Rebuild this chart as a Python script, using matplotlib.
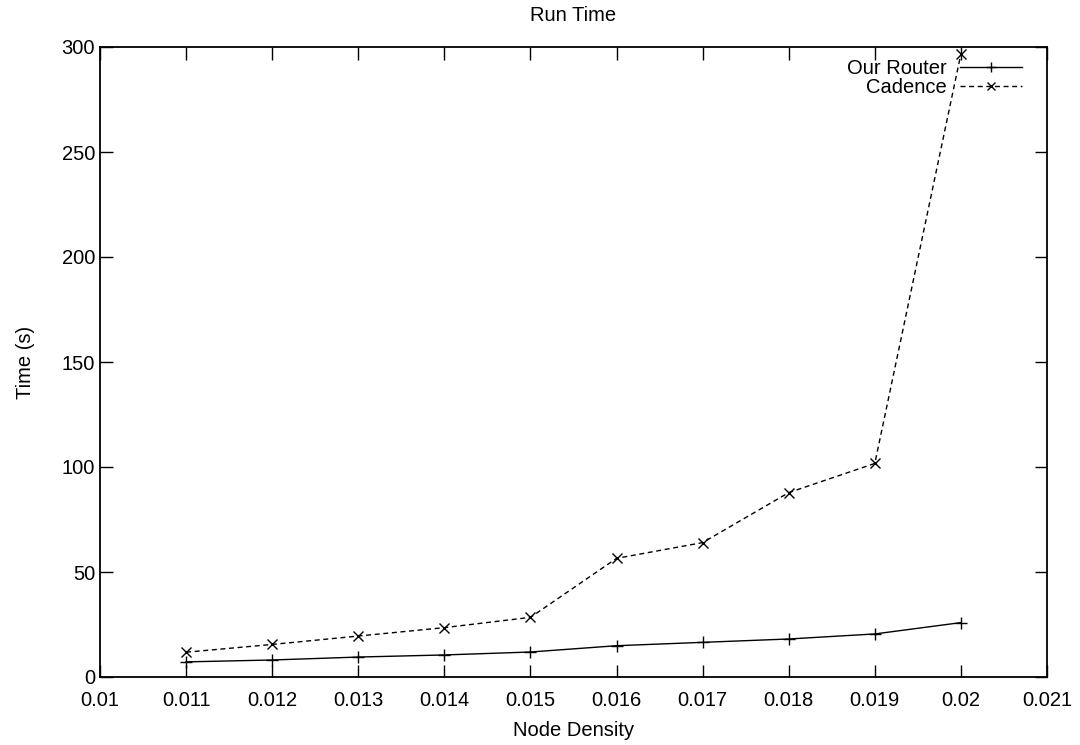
import matplotlib
matplotlib.use("Agg")
import matplotlib.pyplot as plt

density = [0.011, 0.012, 0.013, 0.014, 0.015, 0.016, 0.017, 0.018, 0.019, 0.020]
our_router = [7.2, 8.1, 9.5, 10.5, 11.9, 14.9, 16.5, 18.1, 20.5, 25.9]
cadence = [11.8, 15.5, 19.5, 23.5, 28.4, 56.5, 64.0, 87.8, 101.7, 296.7]

xticks = [0.01, 0.011, 0.012, 0.013, 0.014, 0.015, 0.016, 0.017, 0.018, 0.019, 0.02, 0.021]
xtick_labels = ["0.01", "0.011", "0.012", "0.013", "0.014", "0.015", "0.016", "0.017", "0.018", "0.019", "0.02", "0.021"]
yticks = [0, 50, 100, 150, 200, 250, 300]

plt.rcParams['font.family'] = ['Liberation Sans', 'DejaVu Sans']
fs = 14.5

fig = plt.figure(figsize=(10.8, 7.45), dpi=100)
ax = fig.add_axes([100/1080, 1-677/745, 947/1080, 630/745])

ax.plot(density, our_router, color='black', lw=1.0, ls='-', marker='+', ms=9, mew=1.0, label='Our Router')
ax.plot(density, cadence, color='black', lw=1.0, ls=(0, (3.6, 2.6)), marker='x', ms=7.5, mew=1.0, label='Cadence')

ax.set_xlim(0.01, 0.021)
ax.set_ylim(0, 300)
ax.set_xticks(xticks)
ax.set_xticklabels(xtick_labels)
ax.set_yticks(yticks)
ax.tick_params(direction='in', length=9, width=1, top=True, right=True, labelsize=fs)
ax.tick_params(axis='x', pad=10)
ax.tick_params(axis='y', pad=3.6)
for s in ax.spines.values():
    s.set_linewidth(1.3)

ax.set_xlabel('Node Density', fontsize=fs, labelpad=8)
ax.set_ylabel('Time (s)', fontsize=fs, labelpad=19)
ax.set_title('Run Time', fontsize=fs, pad=19)

leg = ax.legend(loc='upper right', bbox_to_anchor=((1022-100)/947, (677-59)/630),
                frameon=False, markerfirst=False, fontsize=fs, markerscale=0.75,
                handlelength=3.1, handletextpad=0.65, labelspacing=0.0,
                borderaxespad=0, borderpad=0)

fig.savefig('out.png', dpi=100)
